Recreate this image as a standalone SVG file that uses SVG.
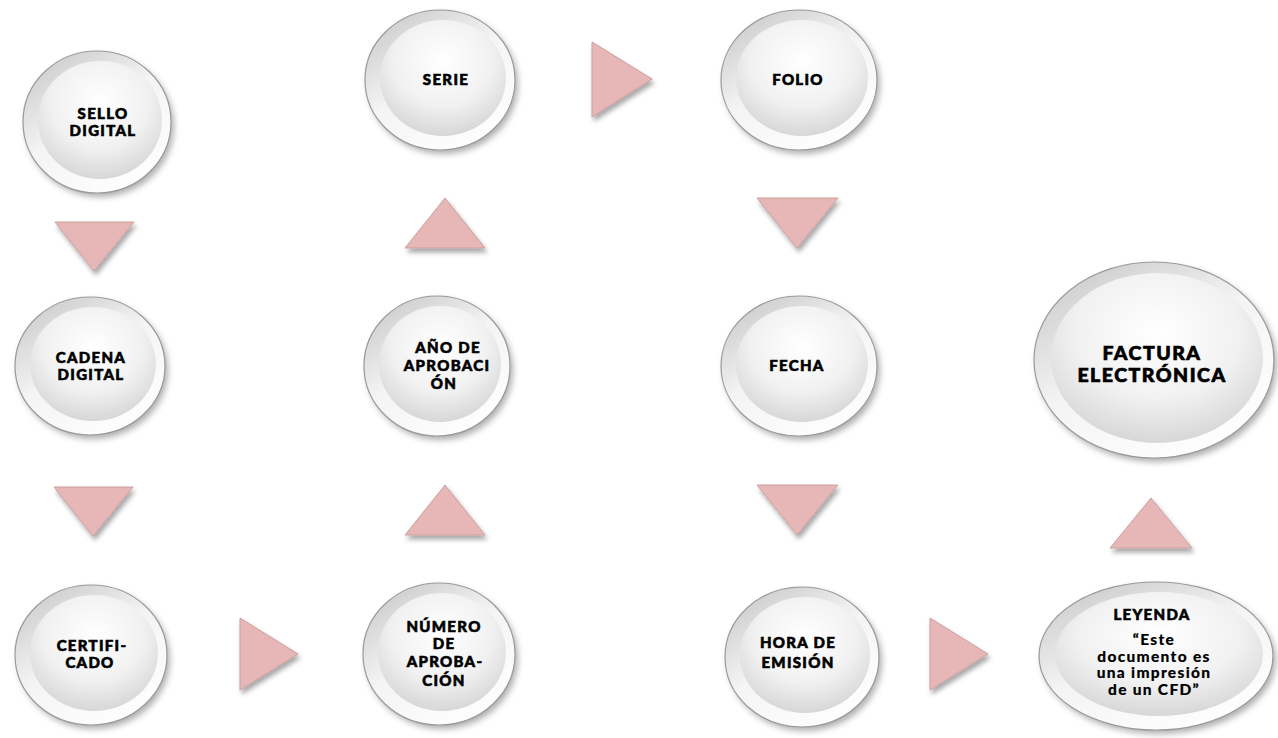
<svg xmlns="http://www.w3.org/2000/svg" width="1278" height="738" viewBox="0 0 1278 738">
  <defs>
    <!-- button face and rim shading -->
    <linearGradient id="rim" x1="0.15" y1="0.05" x2="0.8" y2="1">
      <stop offset="0" stop-color="#cdcdcd"/>
      <stop offset="0.45" stop-color="#f4f4f4"/>
      <stop offset="1" stop-color="#ffffff"/>
    </linearGradient>
    <radialGradient id="face" cx="0.5" cy="0.35" r="0.65">
      <stop offset="0" stop-color="#ffffff"/>
      <stop offset="0.6" stop-color="#f1f1f1"/>
      <stop offset="1" stop-color="#d7d7d7"/>
    </radialGradient>
    <filter id="shadow" x="-20%" y="-20%" width="140%" height="140%">
      <feGaussianBlur stdDeviation="3"/>
    </filter>
    <filter id="tshadow" x="-30%" y="-30%" width="160%" height="160%">
      <feGaussianBlur in="SourceAlpha" stdDeviation="2.5"/>
      <feOffset dx="2" dy="4"/>
      <feComponentTransfer><feFuncA type="linear" slope="0.35"/></feComponentTransfer>
      <feMerge><feMergeNode/><feMergeNode in="SourceGraphic"/></feMerge>
    </filter>
  </defs>
  <style>
    .sh { fill: #6e6e6e; opacity: 0.55; filter: url(#shadow); }
    .rim { fill: url(#rim); stroke: #9a9a9a; stroke-width: 1.2; }
    .face { fill: url(#face); }
    .lbl { font-family: Lato, "Liberation Sans", Arial, sans-serif; font-weight: 900; font-size: 15px; fill: #000; stroke: #000; stroke-width: 0.6px; text-anchor: middle; letter-spacing: 1.3px; }
    .big { font-size: 19.5px; letter-spacing: 1.5px; stroke-width: 0.7px; }
    .txt { font-size: 15.5px; letter-spacing: 1.3px; stroke-width: 0.15px; }
    .tri { fill: #e6b7b6; stroke: #caa09f; stroke-width: 1; stroke-linejoin: round; filter: url(#tshadow); }
  </style>

  <rect width="1278" height="738" fill="#ffffff"/>

  <!-- connectors: pink pointer triangles -->
  <g id="connectors">
    <polygon class="tri" points="55,222 134,222 94,271"/>
    <polygon class="tri" points="54,487 133,487 93,536"/>
    <polygon class="tri" points="240,618 240,690 298,654"/>
    <polygon class="tri" points="405,535 485,535 445,485"/>
    <polygon class="tri" points="405,248 485,248 445,198"/>
    <polygon class="tri" points="592,42 592,117 652,79"/>
    <polygon class="tri" points="757,198 838,198 797,248"/>
    <polygon class="tri" points="757,485 838,485 797,535"/>
    <polygon class="tri" points="930,618 930,690 988,654"/>
    <polygon class="tri" points="1110,548 1192,548 1151,498"/>
  </g>

  <g id="sello-digital">
    <ellipse class="sh" cx="100" cy="126" rx="74" ry="71"/>
    <ellipse class="rim" cx="97" cy="122" rx="74" ry="71"/>
    <ellipse class="face" cx="100" cy="120" rx="62" ry="59"/>
    <text class="lbl" x="103" y="119">SELLO</text>
    <text class="lbl" x="103" y="136">DIGITAL</text>
  </g>

  <g id="cadena-digital">
    <ellipse class="sh" cx="93" cy="370" rx="75" ry="69"/>
    <ellipse class="rim" cx="90" cy="366" rx="75" ry="69"/>
    <ellipse class="face" cx="93" cy="364" rx="63" ry="57"/>
    <text class="lbl" x="91" y="363">CADENA</text>
    <text class="lbl" x="91" y="380">DIGITAL</text>
  </g>

  <g id="certificado">
    <ellipse class="sh" cx="94" cy="659" rx="76" ry="70"/>
    <ellipse class="rim" cx="91" cy="655" rx="76" ry="70"/>
    <ellipse class="face" cx="94" cy="653" rx="64" ry="58"/>
    <text class="lbl" x="92" y="651">CERTIFI-</text>
    <text class="lbl" x="90" y="668">CADO</text>
  </g>

  <g id="serie">
    <ellipse class="sh" cx="443" cy="84" rx="75" ry="70"/>
    <ellipse class="rim" cx="440" cy="80" rx="75" ry="70"/>
    <ellipse class="face" cx="443" cy="78" rx="63" ry="58"/>
    <text class="lbl" x="446" y="85">SERIE</text>
  </g>

  <g id="anio-aprobacion">
    <ellipse class="sh" cx="440" cy="370" rx="73" ry="70"/>
    <ellipse class="rim" cx="437" cy="366" rx="73" ry="70"/>
    <ellipse class="face" cx="440" cy="364" rx="61" ry="58"/>
    <text class="lbl" x="448" y="353">AÑO DE</text>
    <text class="lbl" x="447" y="371">APROBACI</text>
    <text class="lbl" x="444" y="389">ÓN</text>
  </g>

  <g id="numero-aprobacion">
    <ellipse class="sh" cx="442" cy="658" rx="76" ry="71"/>
    <ellipse class="rim" cx="439" cy="654" rx="76" ry="71"/>
    <ellipse class="face" cx="442" cy="652" rx="64" ry="59"/>
    <text class="lbl" x="444" y="632">NÚMERO</text>
    <text class="lbl" x="444" y="649">DE</text>
    <text class="lbl" x="445" y="667">APROBA-</text>
    <text class="lbl" x="444" y="686">CIÓN</text>
  </g>

  <g id="folio">
    <ellipse class="sh" cx="802" cy="84" rx="78" ry="70"/>
    <ellipse class="rim" cx="799" cy="80" rx="78" ry="70"/>
    <ellipse class="face" cx="802" cy="78" rx="66" ry="58"/>
    <text class="lbl" x="798" y="85">FOLIO</text>
  </g>

  <g id="fecha">
    <ellipse class="sh" cx="802" cy="370" rx="78" ry="70"/>
    <ellipse class="rim" cx="799" cy="366" rx="78" ry="70"/>
    <ellipse class="face" cx="802" cy="364" rx="66" ry="58"/>
    <text class="lbl" x="797" y="371">FECHA</text>
  </g>

  <g id="hora-emision">
    <ellipse class="sh" cx="805" cy="661" rx="77" ry="70"/>
    <ellipse class="rim" cx="802" cy="657" rx="77" ry="70"/>
    <ellipse class="face" cx="805" cy="655" rx="65" ry="58"/>
    <text class="lbl" x="798" y="648">HORA DE</text>
    <text class="lbl" x="798" y="668">EMISIÓN</text>
  </g>

  <g id="factura-electronica">
    <ellipse class="sh" cx="1157" cy="364" rx="120" ry="98"/>
    <ellipse class="rim" cx="1154" cy="360" rx="120" ry="98"/>
    <ellipse class="face" cx="1157" cy="358" rx="106" ry="85"/>
    <text class="lbl big" x="1152" y="360">FACTURA</text>
    <text class="lbl big" x="1152" y="382">ELECTRÓNICA</text>
  </g>

  <g id="leyenda">
    <ellipse class="sh" cx="1159" cy="660" rx="117" ry="74"/>
    <ellipse class="rim" cx="1156" cy="656" rx="117" ry="74"/>
    <ellipse class="face" cx="1159" cy="654" rx="104" ry="62"/>
    <text class="lbl" x="1152" y="620">LEYENDA</text>
    <text class="lbl txt" x="1154" y="645">“Este</text>
    <text class="lbl txt" x="1154" y="662">documento es</text>
    <text class="lbl txt" x="1154" y="678">una impresión</text>
    <text class="lbl txt" x="1154" y="695">de un CFD”</text>
  </g>
</svg>
